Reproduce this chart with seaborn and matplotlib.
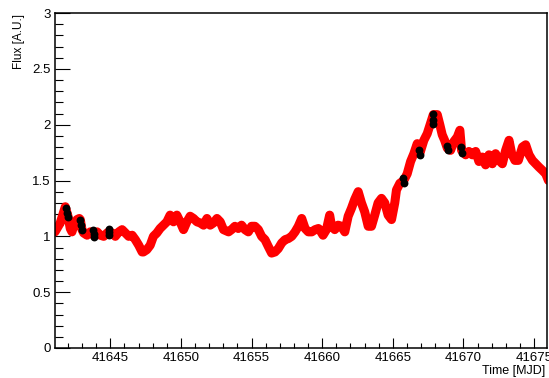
import matplotlib
matplotlib.use("Agg")
import matplotlib.pyplot as plt
from matplotlib.ticker import MultipleLocator, FuncFormatter
import seaborn as sns

# light curve (MJD, flux in arbitrary units)
time_mjd = [
    41641.08, 41641.22, 41641.45, 41641.70, 41641.81, 41642.00, 41642.16, 41642.28,
    41642.40, 41642.64, 41642.80, 41642.87, 41642.99, 41643.11, 41643.35, 41643.58,
    41643.82, 41644.06, 41644.29, 41644.53, 41644.77, 41644.89, 41645.12, 41645.35,
    41645.60, 41645.83, 41646.06, 41646.30, 41646.54, 41646.77, 41647.01, 41647.25,
    41647.34, 41647.58, 41647.82, 41648.05, 41648.29, 41648.52, 41648.76, 41649.00,
    41649.23, 41649.47, 41649.71, 41649.94, 41650.18, 41650.42, 41650.65, 41650.89,
    41651.13, 41651.36, 41651.60, 41651.84, 41652.07, 41652.30, 41652.55, 41652.78,
    41653.01, 41653.37, 41653.58, 41653.82, 41654.06, 41654.29, 41654.53, 41654.77,
    41655.00, 41655.24, 41655.48, 41655.71, 41655.95, 41656.18, 41656.42, 41656.66,
    41656.89, 41657.13, 41657.37, 41657.60, 41657.84, 41658.08, 41658.31, 41658.55,
    41658.79, 41659.02, 41659.26, 41659.50, 41659.73, 41659.82, 41660.06, 41660.30,
    41660.53, 41660.65, 41660.89, 41661.13, 41661.36, 41661.60, 41661.84, 41662.07,
    41662.30, 41662.55, 41662.78, 41663.01, 41663.26, 41663.49, 41663.72, 41663.96,
    41664.20, 41664.43, 41664.67, 41664.91, 41665.14, 41665.26, 41665.50, 41665.78,
    41666.02, 41666.26, 41666.49, 41666.73, 41666.91, 41667.20, 41667.44, 41667.67,
    41667.87, 41668.15, 41668.33, 41668.50, 41668.67, 41668.86, 41669.09, 41669.33,
    41669.57, 41669.75, 41669.87, 41670.16, 41670.39, 41670.63, 41670.87, 41671.10,
    41671.34, 41671.57, 41671.81, 41672.05, 41672.28, 41672.52, 41672.76, 41672.99,
    41673.23, 41673.42, 41673.65, 41673.89, 41674.18, 41674.41, 41674.65, 41674.89,
    41675.12, 41675.35, 41675.60, 41675.83, 41676.02,
]
flux = [
    1.04, 1.07, 1.12, 1.22, 1.265, 1.18, 1.07, 1.04,
    1.09, 1.15, 1.16, 1.15, 1.06, 1.03, 1.01, 1.04,
    1.01, 1.04, 1.01, 1.00, 1.03, 1.04, 1.03, 1.00,
    1.04, 1.06, 1.03, 1.00, 1.01, 0.97, 0.92, 0.86,
    0.86, 0.88, 0.92, 1.00, 1.03, 1.07, 1.10, 1.13,
    1.19, 1.13, 1.19, 1.13, 1.06, 1.13, 1.18, 1.16,
    1.13, 1.12, 1.10, 1.16, 1.10, 1.12, 1.16, 1.13,
    1.06, 1.04, 1.06, 1.09, 1.07, 1.10, 1.06, 1.04,
    1.09, 1.09, 1.06, 1.00, 0.97, 0.91, 0.85, 0.86,
    0.89, 0.94, 0.97, 0.98, 1.00, 1.04, 1.09, 1.16,
    1.07, 1.04, 1.04, 1.06, 1.07, 1.06, 1.01, 1.06,
    1.19, 1.10, 1.06, 1.10, 1.09, 1.04, 1.18, 1.25,
    1.33, 1.40, 1.30, 1.22, 1.09, 1.09, 1.19, 1.30,
    1.34, 1.30, 1.19, 1.15, 1.30, 1.415, 1.475, 1.50,
    1.56, 1.67, 1.74, 1.83, 1.74, 1.86, 1.92, 2.01,
    2.09, 2.09, 2.00, 1.91, 1.86, 1.79, 1.77, 1.85,
    1.89, 1.95, 1.77, 1.73, 1.76, 1.73, 1.76, 1.67,
    1.71, 1.64, 1.73, 1.65, 1.74, 1.68, 1.65, 1.77,
    1.86, 1.74, 1.68, 1.68, 1.80, 1.82, 1.73, 1.68,
    1.65, 1.62, 1.59, 1.56, 1.50,
]

# the black (flagged) points on top of the curve
flag_time = [
    41641.85, 41641.92, 41642.00,
    41642.85, 41642.92, 41642.99,
    41643.80, 41643.82, 41643.85,
    41644.87, 41644.90, 41644.93,
    41665.75, 41665.80,
    41666.88, 41666.92,
    41667.86, 41667.87, 41667.85,
    41668.85, 41668.90,
    41669.85, 41669.88,
]
flag_flux = [
    1.25, 1.21, 1.17,
    1.15, 1.10, 1.06,
    1.06, 1.02, 0.99,
    1.07, 1.04, 1.01,
    1.52, 1.48,
    1.77, 1.73,
    2.10, 2.04, 2.01,
    1.81, 1.77,
    1.80, 1.75,
]

sns.set_theme(style="white")
plt.rcParams['font.family'] = ['Liberation Sans', 'DejaVu Sans']

fig = plt.figure(figsize=(5.49, 3.78), dpi=100)
ax = fig.add_axes([55 / 549, 30 / 378, 492 / 549, 335 / 378])

sns.lineplot(x=time_mjd, y=flux, color='red', linewidth=6.5, sort=False,
             estimator=None, solid_capstyle='round', solid_joinstyle='round', ax=ax)
sns.scatterplot(x=flag_time, y=flag_flux, color='black', s=32, linewidth=0,
                zorder=3, ax=ax)

ax.set_xlim(41641.08, 41675.92)
ax.set_ylim(0, 3)

fmt = FuncFormatter(lambda v, p: f'{v:g}')
ax.xaxis.set_major_locator(MultipleLocator(5))
ax.xaxis.set_minor_locator(MultipleLocator(1))
ax.yaxis.set_major_locator(MultipleLocator(0.5))
ax.yaxis.set_minor_locator(MultipleLocator(0.1))
ax.xaxis.set_major_formatter(fmt)
ax.yaxis.set_major_formatter(fmt)

ax.tick_params(which='both', direction='in', bottom=True, left=True,
               top=False, right=False, color='black', width=0.8,
               labelsize=9.5, labelcolor='black')
ax.tick_params(axis='y', which='major', length=10.8, pad=3)
ax.tick_params(axis='y', which='minor', length=5.8)
ax.tick_params(axis='x', which='major', length=7.2, pad=3)
ax.tick_params(axis='x', which='minor', length=3.6)

for sp in ax.spines.values():
    sp.set_visible(True)
    sp.set_color('black')
    sp.set_linewidth(1.1)

ax.set_xlabel('')
ax.set_ylabel('')
fig.text(19 / 549, 1 - 14 / 378, 'Flux [A.U.]', rotation=90,
         ha='center', va='top', fontsize=8.5, color='black')
fig.text(545 / 549, 1 - 371 / 378, 'Time [MJD]', ha='right', va='center',
         fontsize=9, color='black')

fig.savefig('out.png', dpi=100)
